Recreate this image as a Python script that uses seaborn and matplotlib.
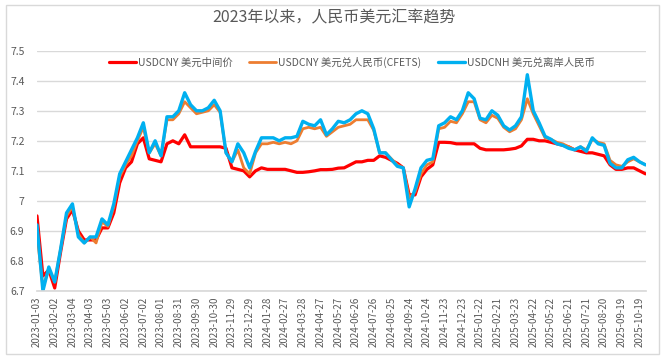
import pandas as pd
import numpy as np
import matplotlib.pyplot as plt
from matplotlib.patches import Rectangle
import seaborn as sns

# ── DATA (one sample every 10 days from 2023-01-03) ──
start = "2023-01-03"
dates = pd.date_range(start, periods=104, freq="10D")

usdcny_fix = [6.95, 6.75, 6.77, 6.71, 6.83, 6.94, 6.97, 6.90, 6.87, 6.87,
              6.87, 6.91, 6.91, 6.96, 7.06, 7.11, 7.13, 7.19, 7.21, 7.14,
              7.135, 7.13, 7.19, 7.20, 7.19, 7.22, 7.18, 7.18, 7.18, 7.18,
              7.18, 7.18, 7.175, 7.11, 7.105, 7.10, 7.08, 7.10, 7.11, 7.105,
              7.105, 7.105, 7.105, 7.10, 7.095, 7.095, 7.097, 7.10, 7.104, 7.104,
              7.105, 7.109, 7.11, 7.12, 7.13, 7.13, 7.135, 7.135, 7.15, 7.145,
              7.135, 7.125, 7.11, 7.02, 7.02, 7.08, 7.105, 7.12, 7.195, 7.195,
              7.194, 7.19, 7.19, 7.19, 7.19, 7.175, 7.17, 7.17, 7.17, 7.17,
              7.172, 7.175, 7.183, 7.205, 7.205, 7.20, 7.20, 7.195, 7.19, 7.185,
              7.18, 7.17, 7.165, 7.16, 7.16, 7.155, 7.15, 7.12, 7.105, 7.105,
              7.11, 7.11, 7.10, 7.09]

usdcny_cfets = [6.89, 6.71, 6.775, 6.73, 6.84, 6.95, 6.98, 6.89, 6.86, 6.88,
                6.86, 6.93, 6.915, 6.98, 7.08, 7.12, 7.15, 7.20, 7.245, 7.16,
                7.19, 7.15, 7.27, 7.27, 7.29, 7.33, 7.31, 7.29, 7.295, 7.30,
                7.32, 7.295, 7.16, 7.13, 7.17, 7.11, 7.09, 7.16, 7.19, 7.19,
                7.195, 7.19, 7.195, 7.19, 7.20, 7.24, 7.245, 7.24, 7.245, 7.215,
                7.23, 7.245, 7.25, 7.255, 7.27, 7.27, 7.27, 7.235, 7.16, 7.16,
                7.14, 7.12, 7.11, 7.01, 7.03, 7.09, 7.12, 7.13, 7.24, 7.245,
                7.265, 7.26, 7.29, 7.33, 7.33, 7.27, 7.26, 7.285, 7.275, 7.245,
                7.23, 7.24, 7.27, 7.34, 7.29, 7.25, 7.21, 7.205, 7.195, 7.19,
                7.18, 7.17, 7.18, 7.17, 7.205, 7.195, 7.19, 7.135, 7.12, 7.115,
                7.13, 7.14, 7.13, 7.12]

usdcnh = [6.92, 6.70, 6.78, 6.73, 6.84, 6.96, 6.99, 6.88, 6.86, 6.88,
          6.88, 6.94, 6.92, 6.99, 7.09, 7.13, 7.17, 7.21, 7.26, 7.16,
          7.20, 7.15, 7.28, 7.28, 7.30, 7.36, 7.32, 7.30, 7.30, 7.31,
          7.335, 7.30, 7.16, 7.13, 7.19, 7.16, 7.11, 7.165, 7.21, 7.21,
          7.21, 7.20, 7.21, 7.21, 7.215, 7.265, 7.255, 7.25, 7.27, 7.22,
          7.24, 7.265, 7.26, 7.27, 7.29, 7.30, 7.29, 7.24, 7.16, 7.16,
          7.137, 7.115, 7.11, 6.98, 7.04, 7.11, 7.135, 7.14, 7.25, 7.26,
          7.28, 7.27, 7.30, 7.36, 7.34, 7.275, 7.27, 7.30, 7.285, 7.25,
          7.236, 7.25, 7.28, 7.42, 7.30, 7.26, 7.215, 7.205, 7.19, 7.185,
          7.175, 7.17, 7.18, 7.165, 7.21, 7.19, 7.185, 7.125, 7.11, 7.11,
          7.137, 7.145, 7.13, 7.12]

series_names = ["USDCNY 美元中间价", "USDCNY 美元兑人民币(CFETS)", "USDCNH 美元兑离岸人民币"]
series_colors = ["#FF0000", "#ED7D31", "#00B0F0"]
series_widths = [2.3, 2.0, 2.4]

df = pd.DataFrame({"date": dates,
                   series_names[0]: usdcny_fix,
                   series_names[1]: usdcny_cfets,
                   series_names[2]: usdcnh})
long = df.melt(id_vars="date", var_name="series", value_name="rate")

# ── PLOT ──────────────────────────────────────────────────────
sns.set_theme(style="white")
plt.rcParams["font.family"] = ["Noto Sans CJK SC", "DejaVu Sans"]

fig = plt.figure(figsize=(6.64, 3.59), dpi=100)
ax = fig.add_axes([0.0557, 0.1894, 0.9173, 0.6694])

for name, col, lw in zip(series_names, series_colors, series_widths):
    sub = long[long["series"] == name]
    sns.lineplot(data=sub, x="date", y="rate", ax=ax, color=col, lw=lw,
                 label=name, solid_joinstyle="round")

# chart frame like the Excel chart area
fig.patches.append(Rectangle((6 / 664, 5 / 359), 653 / 664, 349 / 359,
                             transform=fig.transFigure, fill=False,
                             edgecolor="#d9d9d9", lw=1))

x0 = pd.Timestamp(start)
ax.set_xlim(x0, x0 + pd.Timedelta(days=1031))
ax.set_ylim(6.7, 7.5)
ax.set_yticks(np.arange(6.7, 7.51, 0.1))
ax.set_yticklabels(["6.7", "6.8", "6.9", "7", "7.1", "7.2", "7.3", "7.4", "7.5"])

xticks = pd.date_range(start, "2025-10-19", freq="30D")
ax.set_xticks(xticks)
ax.set_xticklabels([d.strftime("%Y-%m-%d") for d in xticks], rotation=90)

ax.tick_params(axis="both", length=0, colors="#595959", labelsize=7)
ax.tick_params(axis="y", pad=9, labelsize=7.5)
ax.tick_params(axis="x", pad=4)
ax.grid(axis="y", color="#d9d9d9", lw=1)
ax.grid(axis="x", visible=False)
for s in ["top", "right", "left"]:
    ax.spines[s].set_visible(False)
ax.spines["bottom"].set_color("#d9d9d9")
ax.set_xlabel("")
ax.set_ylabel("")

ax.legend(loc="center", bbox_to_anchor=(0.517, 0.953), ncol=3, frameon=False,
          fontsize=7.5, handlelength=2.6, handletextpad=0.2, columnspacing=1.6,
          labelcolor="#595959")

fig.text(0.503, 0.95, "2023年以来，人民币美元汇率趋势", ha="center", va="center",
         fontsize=11.5, color="#595959")

plt.savefig("out.png", dpi=100)
plt.close()
